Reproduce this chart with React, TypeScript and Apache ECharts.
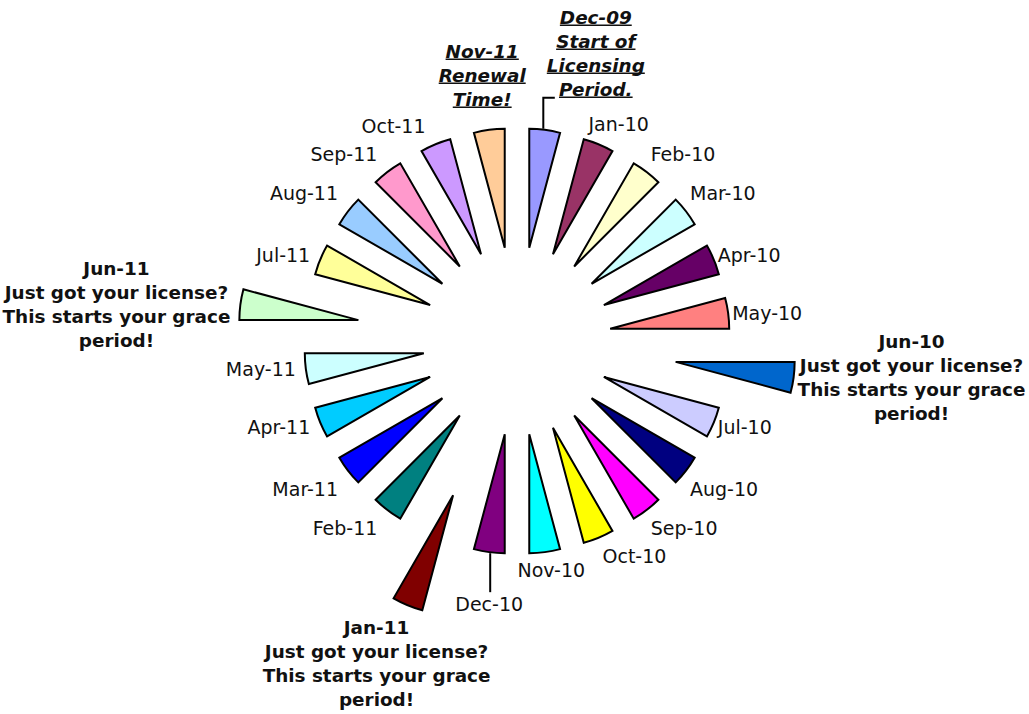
import React, { useEffect, useRef } from "react";
import * as echarts from "echarts";

// ---------- data ----------
const months: string[] = [
  "Dec-09", "Jan-10", "Feb-10", "Mar-10", "Apr-10", "May-10",
  "Jun-10", "Jul-10", "Aug-10", "Sep-10", "Oct-10", "Nov-10",
  "Dec-10", "Jan-11", "Feb-11", "Mar-11", "Apr-11", "May-11",
  "Jun-11", "Jul-11", "Aug-11", "Sep-11", "Oct-11", "Nov-11",
];
const values: number[] = [
  1, 1, 1, 1, 1, 1, 1, 1, 1, 1, 1, 1,
  1, 1, 1, 1, 1, 1, 1, 1, 1, 1, 1, 1,
];
const colors: string[] = [
  "#9999FF", "#993366", "#FFFFCC", "#CCFFFF", "#660066", "#FF8080",
  "#0066CC", "#CCCCFF", "#000080", "#FF00FF", "#FFFF00", "#00FFFF",
  "#800080", "#800000", "#008080", "#0000FF", "#00CCFF", "#CCFFFF",
  "#CCFFCC", "#FFFF99", "#99CCFF", "#FF99CC", "#CC99FF", "#FFCC99",
];
const graceNote: string[] = ["Just got your license?", "This starts your grace", "period!"];
const notes: Record<string, string[]> = {
  "Dec-09": ["Start of", "Licensing", "Period."],
  "Jun-10": graceNote,
  "Jan-11": graceNote,
  "Jun-11": graceNote,
  "Nov-11": ["Renewal", "Time!"],
};

// ---------- style / layout ----------
const CENTER = [517, 341];
const POLAR_R = 300;
const BASE_EXPLODE = 94;
const WEDGE_R = 119;
const explodeOf: Record<string, number> = { "Jun-10": 160, "Jan-11": 167, "Jun-11": 160 };
const FF = "'DejaVu Sans', sans-serif";

type Place = {
  align: "left" | "center" | "right";
  vAlign: "top" | "middle" | "bottom";
  dx: number;
  dy: number;
  leader?: "elbow" | "down";
  underline?: boolean;
  italic?: boolean;
};
const labelPlace: Record<string, Place> = {
  "Dec-09": { align: "center", vAlign: "bottom", dx: 51, dy: -28, leader: "elbow", underline: true, italic: true },
  "Nov-11": { align: "center", vAlign: "bottom", dx: -7, dy: -18, underline: true, italic: true },
  "Dec-10": { align: "center", vAlign: "top", dx: 0, dy: 41, leader: "down" },
  "Jan-11": { align: "center", vAlign: "top", dx: -31, dy: 10 },
  "Jan-10": { align: "left", vAlign: "middle", dx: -10, dy: -20 },
};

const total = values.reduce((a, b) => a + b, 0);
const startAngles: number[] = [];
const endAngles: number[] = [];
{
  let acc = 0;
  values.forEach((v) => {
    startAngles.push((acc / total) * 360);
    acc += v;
    endAngles.push((acc / total) * 360);
  });
}

let measureCtx: CanvasRenderingContext2D | null = null;
function measure(text: string, font: string): number {
  if (!measureCtx) measureCtx = document.createElement("canvas").getContext("2d");
  if (!measureCtx) return text.length * 10;
  measureCtx.font = font;
  return measureCtx.measureText(text).width;
}

function renderItem(params: any, api: any) {
  const i = params.dataIndex;
  const m = months[i];
  const a0 = startAngles[i];
  const a1 = endAngles[i];
  const mid = (a0 + a1) / 2;
  const d = explodeOf[m] ?? BASE_EXPLODE;
  const apex = api.coord([d, mid]);
  const p = api.coord([d + WEDGE_R, mid]);
  const rPx = api.coord([WEDGE_R, mid])[2];
  const sA = -api.coord([WEDGE_R, a0])[3];
  const eA = -api.coord([WEDGE_R, a1])[3];
  const dirx = (p[0] - apex[0]) / rPx;
  const diry = (p[1] - apex[1]) / rPx;

  const children: any[] = [
    {
      type: "sector",
      shape: { cx: apex[0], cy: apex[1], r: rPx, r0: 0, startAngle: sA, endAngle: eA, clockwise: true },
      style: { fill: colors[i], stroke: "#000", lineWidth: 2, lineJoin: "miter" },
    },
  ];

  const lines = [m, ...(notes[m] ?? [])];
  const multi = lines.length > 1;
  const pl = labelPlace[m];
  const font = multi ? `${pl?.italic ? "italic " : ""}bold 18.4px ${FF}` : `19px ${FF}`;
  const lh = multi ? 24 : 22;

  let align: string;
  let vAlign: string;
  let x: number;
  let y: number;
  if (pl) {
    align = pl.align;
    vAlign = pl.vAlign;
    x = p[0] + pl.dx;
    y = p[1] + pl.dy;
  } else {
    if (Math.abs(dirx) <= 0.2) {
      align = "center";
      x = p[0] + dirx * 50;
    } else if (dirx > 0) {
      align = "left";
      x = p[0] + 4;
    } else {
      align = "right";
      x = p[0] - 10;
    }
    const t = Math.min(1, Math.max(0, (Math.abs(diry) - 0.3) / 0.3));
    y = p[1] + Math.sign(diry) * 18 * t;
    vAlign = "middle";
  }

  const widths = lines.map((t) => measure(t, font));
  const W = Math.max(...widths);
  const H = lines.length * lh;
  const bx = align === "left" ? x + W / 2 : align === "right" ? x - W / 2 : x;
  const top = vAlign === "top" ? y : vAlign === "bottom" ? y - H : y - H / 2;

  lines.forEach((t, k) => {
    const cy = top + (k + 0.5) * lh;
    children.push({
      type: "text",
      x: bx,
      y: cy,
      z2: 10,
      style: {
        text: t,
        font,
        fill: "#111",
        align: "center",
        verticalAlign: "middle",
        textAlign: "center",
        textVerticalAlign: "middle",
      },
    });
    if (pl?.underline) {
      children.push({
        type: "line",
        shape: { x1: bx - widths[k] / 2, y1: cy + 7.5, x2: bx + widths[k] / 2, y2: cy + 7.5 },
        style: { stroke: "#111", lineWidth: 1.6 },
      });
    }
  });

  if (pl?.leader === "elbow") {
    children.push({
      type: "polyline",
      shape: { points: [[p[0] - 1.5, p[1] - 1], [p[0] - 1.5, p[1] - 32], [p[0] + 10, p[1] - 32]] },
      style: { stroke: "#000", lineWidth: 2, fill: null },
    });
  } else if (pl?.leader === "down") {
    children.push({
      type: "polyline",
      shape: { points: [[p[0] + 1, p[1] + 1], [p[0] + 1, p[1] + 40]] },
      style: { stroke: "#000", lineWidth: 2, fill: null },
    });
  }

  return { type: "group", children };
}

export default function App() {
  const ref = useRef<HTMLDivElement>(null);
  useEffect(() => {
    document.body.style.margin = "0";
    if (!ref.current) return;
    const chart = echarts.init(ref.current, undefined, { renderer: "svg" });
    chart.setOption({
      animation: false,
      backgroundColor: "#fff",
      polar: { center: CENTER, radius: POLAR_R },
      radiusAxis: { type: "value", min: 0, max: POLAR_R, show: false },
      angleAxis: { type: "value", min: 0, max: 360, startAngle: 90, clockwise: true, show: false },
      series: [
        {
          type: "custom",
          coordinateSystem: "polar",
          renderItem,
          clip: false,
          data: months.map((m, i) => ({ name: m, value: [values[i], (startAngles[i] + endAngles[i]) / 2] })),
        },
      ],
    });
    return () => chart.dispose();
  }, []);
  return <div ref={ref} style={{ width: 1029, height: 714 }} />;
}
